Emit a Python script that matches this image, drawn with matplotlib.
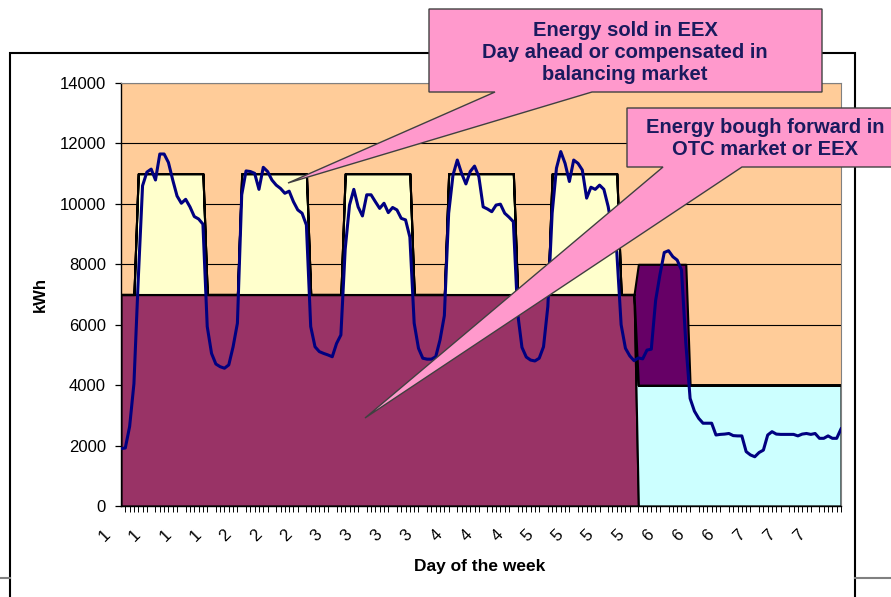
import numpy as np
import matplotlib.pyplot as plt
from matplotlib.patches import Polygon, Rectangle
from matplotlib.lines import Line2D
from matplotlib import transforms

plt.rcParams['font.family'] = ['Liberation Sans', 'DejaVu Sans']

# hourly consumption (kWh), one list per day
DAY1 = [1900, 1920, 2630, 4050, 7500, 10600, 11050, 11150, 10790, 11650, 11650, 11370,
        10790, 10260, 10020, 10150, 9900, 9580, 9500, 9330, 5940, 5050, 4700, 4610]
DAY2 = [4560, 4670, 5270, 6050, 10300, 11090, 11070, 11010, 10480, 11210, 11070, 10790,
        10620, 10510, 10350, 10420, 10070, 9800, 9690, 9300, 5940, 5270, 5110, 5050]
DAY3 = [5000, 4940, 5380, 5660, 8500, 9960, 10480, 9900, 9600, 10300, 10300, 10070,
        9850, 10020, 9710, 9880, 9800, 9520, 9470, 8900, 6050, 5220, 4890, 4860]
DAY4 = [4860, 4940, 5500, 6300, 9690, 10950, 11450, 11010, 10660, 11070, 11250, 10900,
        9900, 9830, 9740, 9960, 9990, 9690, 9560, 9410, 6380, 5250, 4930, 4830]
DAY5 = [4800, 4890, 5270, 6600, 9690, 11180, 11730, 11340, 10740, 11450, 11340, 11120,
        10190, 10550, 10480, 10620, 10480, 9910, 9080, 8400, 6000, 5220, 4970, 4810]
DAY6 = [4900, 4870, 5160, 5190, 6800, 7650, 8390, 8450, 8250, 8140, 7810, 5400,
        3560, 3140, 2900, 2740, 2740, 2740, 2350, 2370, 2380, 2400, 2330, 2320]
DAY7 = [2320, 1800, 1690, 1630, 1770, 1850, 2350, 2460, 2380, 2370, 2370, 2370,
        2370, 2320, 2380, 2400, 2370, 2400, 2240, 2240, 2320, 2240, 2240, 2550]

# contracted blocks
BASE_KWH = 7000          # base band, days 1-5
BASE_LAST_HOUR = 119
OTC_KWH = 4000           # weekend band
PEAK_KWH = 4000          # peak blocks on top of base, days 1-5
PEAK_DAYS = [1, 2, 3, 4, 5]
PEAK_HOURS = (4, 19)
SAT_KWH = 4000           # saturday morning block
SAT_HOURS = (120, 131)

COL_BASE = '#993366'
COL_OTC = '#CCFFFF'
COL_PEAK = '#FFFFCC'
COL_SAT = '#660066'
COL_BG = '#FFCC99'
COL_PINK = '#FF99CC'
COL_TEXT = '#1a1a5e'

W, H = 891, 597


def fx(px):
    return px / W


def fy(py):
    return 1 - py / H


def main():
    load = np.array(DAY1 + DAY2 + DAY3 + DAY4 + DAY5 + DAY6 + DAY7)
    hours = np.arange(len(load))

    base = np.where(hours <= BASE_LAST_HOUR, BASE_KWH, 0)
    otc = np.where(hours > BASE_LAST_HOUR, OTC_KWH, 0)
    peak = np.zeros(len(hours))
    for d in PEAK_DAYS:
        h0 = (d - 1) * 24
        peak[h0 + PEAK_HOURS[0]:h0 + PEAK_HOURS[1] + 1] = PEAK_KWH
    sat = np.where((hours >= SAT_HOURS[0]) & (hours <= SAT_HOURS[1]), SAT_KWH, 0)

    fig = plt.figure(figsize=(W / 100, H / 100), dpi=100)
    ax = fig.add_axes([fx(121), fy(506), 720 / W, 423 / H])
    ax.set_facecolor(COL_BG)

    ax.stackplot(hours, base, otc, peak, sat,
                 colors=[COL_BASE, COL_OTC, COL_PEAK, COL_SAT],
                 edgecolor='black', linewidth=1.5)
    ax.plot(hours, load, color='#000080', lw=2.2, zorder=3)

    ax.set_xlim(0, len(hours) - 1)
    ax.set_ylim(0, 14000)
    ax.set_yticks(np.arange(0, 14001, 2000))
    ax.yaxis.grid(True, color='black', lw=0.8)
    ax.set_axisbelow(True)
    ax.tick_params(axis='y', length=4.3, width=0.9, pad=6.5, labelsize=12)

    ticks = hours[::7]
    ax.set_xticks(ticks)
    ax.set_xticklabels([str(h // 24 + 1) for h in ticks], rotation=45,
                       ha='center', va='center', fontsize=12)
    ax.set_xticks(hours, minor=True)
    ax.tick_params(axis='x', which='major', length=0, pad=21)
    ax.tick_params(axis='x', which='minor', length=4, width=0.7)
    shift = transforms.ScaledTranslation(-0.16, 0, fig.dpi_scale_trans)
    for lbl in ax.get_xticklabels():
        lbl.set_transform(lbl.get_transform() + shift)

    for s in ['top', 'right']:
        ax.spines[s].set_color('#808080')
    for s in ['left', 'bottom']:
        ax.spines[s].set_color('black')
        ax.spines[s].set_linewidth(1.0)

    ax.text(-0.1125, 0.5, 'kWh', transform=ax.transAxes, rotation=90,
            ha='center', va='center', fontsize=12, fontweight='bold')
    ax.text(0.4986, -0.144, 'Day of the week', transform=ax.transAxes,
            ha='center', va='center', fontsize=12.5, fontweight='bold')

    # outer chart frame and slide lines
    fig.add_artist(Rectangle((fx(10), fy(640)), fx(855) - fx(10), fy(53) - fy(640),
                             transform=fig.transFigure, fill=False,
                             edgecolor='black', lw=1.5, zorder=0))
    for xa, xb in [(0, 10), (855, 891)]:
        fig.add_artist(Line2D([fx(xa), fx(xb)], [fy(578), fy(578)],
                              transform=fig.transFigure, color='#808080', lw=1.5))

    # callouts
    call1 = [(429, 9), (822, 9), (822, 92), (592, 92), (288, 183), (495, 92), (429, 92)]
    call2 = [(627, 108), (905, 108), (905, 167), (742, 167), (365, 418), (663, 167), (627, 167)]
    for pts in [call1, call2]:
        fig.add_artist(Polygon([(fx(x), fy(y)) for x, y in pts], closed=True,
                               transform=fig.transFigure, facecolor=COL_PINK,
                               edgecolor='#404040', lw=1.0, zorder=10))

    fig.text(fx(625), fy(52), 'Energy sold in EEX\nDay ahead or compensated in\nbalancing market',
             ha='center', va='center', fontsize=14.5, fontweight='bold',
             color=COL_TEXT, linespacing=1.2, zorder=11)
    fig.text(fx(765), fy(138.5), 'Energy bough forward in\nOTC market or EEX',
             ha='center', va='center', fontsize=14.5, fontweight='bold',
             color=COL_TEXT, linespacing=1.2, zorder=11)

    fig.savefig('out.png', dpi=100)
    plt.close(fig)


if __name__ == '__main__':
    main()
